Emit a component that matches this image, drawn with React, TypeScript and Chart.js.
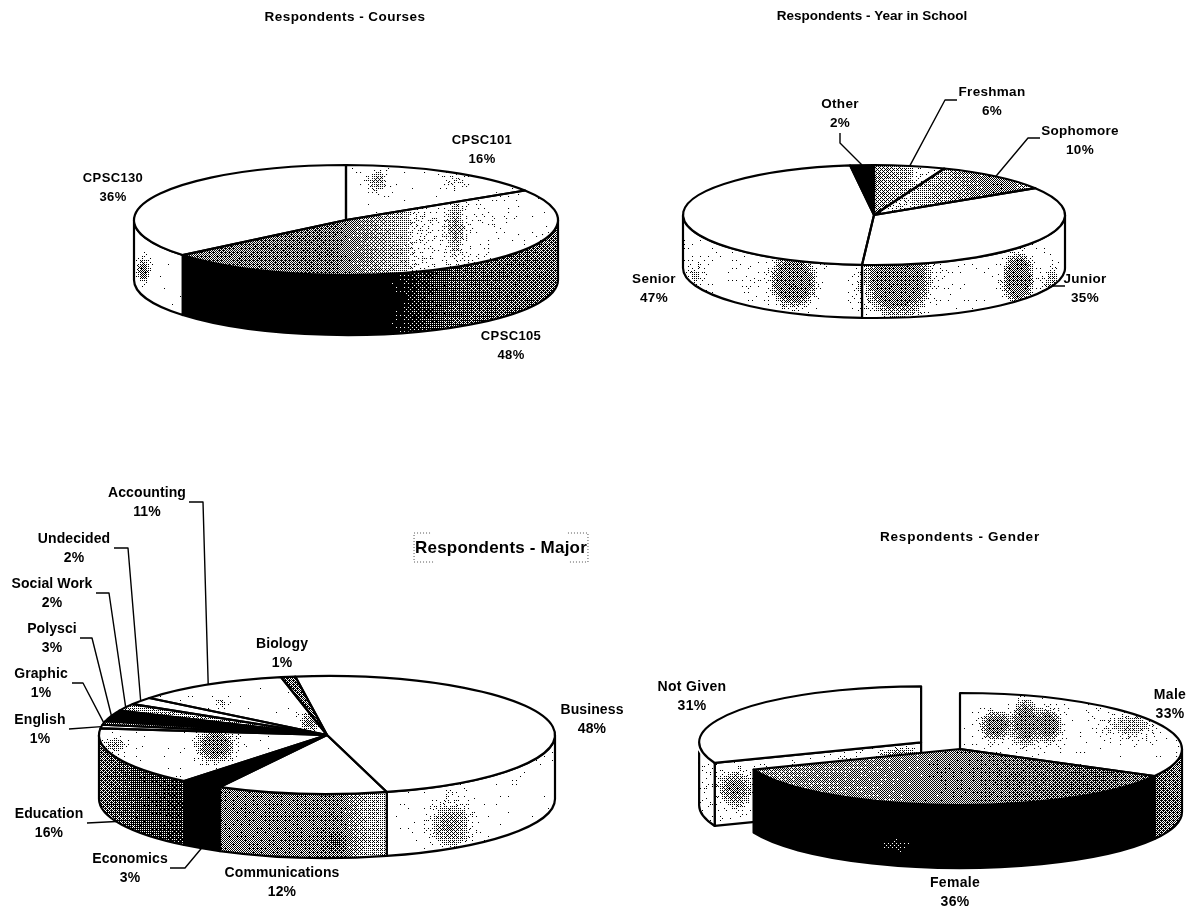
import React, { useEffect, useRef } from "react";
import { Chart, registerables } from "chart.js";

Chart.register(...registerables);

// ---- values, in percent ----
const courseLabels = ["CPSC101", "CPSC105", "CPSC130"];
const courseValues = [16, 48, 36];

const yearLabels = ["Freshman", "Sophomore", "Junior", "Senior", "Other"];
const yearValues = [6, 10, 35, 47, 2];

const majorLabels = ["Business", "Communications", "Economics", "Education", "English", "Graphic", "Polysci", "Social Work", "Undecided", "Accounting", "Biology"];
const majorValues = [48, 12, 3, 16, 1, 1, 3, 2, 2, 11, 1];

const genderLabels = ["Not Given", "Male", "Female"];
const genderValues = [31, 33, 36];

const PAGE_W = 1198;
const PAGE_H = 912;
const FONT = '"Liberation Sans", Arial, sans-serif';

type Blob = [number, number, number, number, number];
type Tone = { ramp?: [number, number][]; base?: number; blobs?: Blob[]; cap?: number };
type LabelPos = { x: number; y: number; via?: [number, number][] };
type Panel = {
  title: string;
  titleX: number;
  titleY: number;
  titleSize: number;
  titleTrack: number;
  labelSize: number;
  labelTrack: number;
  cx: number;
  cy: number;
  r: number;
  ry: number;
  depth: number;
  rotation: number;
  labels: string[];
  values: number[];
  offsets?: number[];
  tops: Tone[];
  walls: Tone[];
  cuts?: (Tone | null)[];
  layout: LabelPos[];
  frame?: boolean;
};

const solid = (d: number): Tone => ({ base: d });

// ---- halftone fill: dark pixels wherever the local tone beats an ordered threshold ----
const BAYER = [
  [0, 8, 2, 10],
  [12, 4, 14, 6],
  [3, 11, 1, 9],
  [15, 7, 13, 5],
];

function grain(x: number, y: number) {
  const s = Math.sin(x * 12.9898 + y * 78.233) * 43758.5453;
  return s - Math.floor(s);
}

function toneAt(t: Tone, x: number, y: number) {
  let d = t.base ?? 0;
  if (t.ramp) {
    const r = t.ramp;
    if (x <= r[0][0]) d = r[0][1];
    else if (x >= r[r.length - 1][0]) d = r[r.length - 1][1];
    else
      for (let i = 1; i < r.length; i++) {
        if (x <= r[i][0]) {
          const f = (x - r[i - 1][0]) / (r[i][0] - r[i - 1][0]);
          d = r[i - 1][1] + f * (r[i][1] - r[i - 1][1]);
          break;
        }
      }
  }
  for (const [bx, by, rx, ry, s] of t.blobs ?? []) {
    const u = (x - bx) / rx;
    const v = (y - by) / ry;
    d += s * Math.exp(-u * u - v * v);
  }
  return t.cap !== undefined ? Math.min(d, t.cap) : d;
}

function halftone(ctx: CanvasRenderingContext2D, p: Panel, t: Tone) {
  const c = document.createElement("canvas");
  c.width = PAGE_W;
  c.height = PAGE_H;
  const g = c.getContext("2d")!;
  g.fillStyle = "#fff";
  g.fillRect(0, 0, PAGE_W, PAGE_H);
  const x0 = Math.max(0, Math.floor(p.cx - p.r - 70));
  const x1 = Math.min(PAGE_W, Math.ceil(p.cx + p.r + 70));
  const y0 = Math.max(0, Math.floor(p.cy - p.ry - 30));
  const y1 = Math.min(PAGE_H, Math.ceil(p.cy + p.ry + p.depth + 30));
  const img = g.createImageData(x1 - x0, y1 - y0);
  let i = 0;
  for (let y = y0; y < y1; y++) {
    for (let x = x0; x < x1; x++) {
      const d = toneAt(t, x, y);
      // pale areas read as scattered specks, mid tones as an even screen
      const mix = d < 0.25 ? 0.55 : 0.92;
      const thr = mix * ((BAYER[y & 3][x & 3] + 0.5) / 16) + (1 - mix) * grain(x, y);
      const v = d > thr ? 0 : 255;
      img.data[i++] = v;
      img.data[i++] = v;
      img.data[i++] = v;
      img.data[i++] = 255;
    }
  }
  g.putImageData(img, x0, y0);
  return ctx.createPattern(c, "repeat")!;
}

// ---- the four panels ----
const panels: Panel[] = [
  {
    title: "Respondents - Courses",
    titleX: 345,
    titleY: 17,
    titleSize: 13.5,
    titleTrack: 0.45,
    labelSize: 13,
    labelTrack: 0.35,
    cx: 346,
    cy: 220,
    r: 212,
    ry: 55,
    depth: 60,
    rotation: 0,
    labels: courseLabels,
    values: courseValues,
    tops: [
      { base: 0.04, blobs: [[377, 180, 10, 12, 0.35], [453, 180, 18, 10, 0.2]] },
      { ramp: [[190, 0.55], [330, 0.58], [370, 0.42], [430, 0.16], [558, 0.05]], blobs: [[455, 228, 8, 24, 0.3]] },
      solid(0.001),
    ],
    walls: [
      solid(0.1),
      { ramp: [[180, 1.05], [385, 1.0], [420, 0.82], [455, 0.68], [558, 0.6]] },
      { base: 0.04, blobs: [[143, 270, 6, 12, 0.55]] },
    ],
    layout: [
      { x: 482, y: 140 },
      { x: 511, y: 336 },
      { x: 113, y: 178 },
    ],
  },
  {
    title: "Respondents - Year in School",
    titleX: 872,
    titleY: 16,
    titleSize: 13.5,
    titleTrack: 0,
    labelSize: 13.5,
    labelTrack: 0.3,
    cx: 874,
    cy: 215,
    r: 191,
    ry: 50,
    depth: 53,
    rotation: 0,
    labels: yearLabels,
    values: yearValues,
    tops: [
      { ramp: [[874, 0.42], [905, 0.32], [935, 0.08]] },
      { ramp: [[880, 0.15], [950, 0.38], [1000, 0.55], [1032, 0.35]] },
      solid(0.001),
      solid(0.001),
      solid(1.2),
    ],
    walls: [
      solid(0),
      solid(0),
      { base: 0.05, cap: 0.55, blobs: [[897, 278, 26, 30, 1.1], [1018, 278, 12, 20, 1.1], [1052, 285, 10, 25, 0.3]] },
      { base: 0.05, cap: 0.55, blobs: [[793, 280, 17, 20, 1.2], [695, 275, 12, 15, 0.22], [860, 285, 8, 25, 0.22], [750, 280, 12, 12, 0.12]] },
      solid(0),
    ],
    layout: [
      { x: 992, y: 92, via: [[957, 100], [945, 100]] },
      { x: 1080, y: 131, via: [[1040, 138], [1028, 138]] },
      { x: 1085, y: 279, via: [[1065, 286], [1053, 286]] },
      { x: 654, y: 279 },
      { x: 840, y: 104, via: [[840, 133], [840, 143]] },
    ],
  },
  {
    title: "Respondents - Major",
    titleX: 501,
    titleY: 548,
    titleSize: 17,
    titleTrack: 0.2,
    labelSize: 14,
    labelTrack: 0.1,
    frame: true,
    cx: 327,
    cy: 735,
    r: 228,
    ry: 59,
    depth: 64,
    rotation: -8,
    labels: majorLabels,
    values: majorValues,
    tops: [
      { base: 0.006 },
      { base: 0.012 },
      solid(1.2),
      { base: 0.05, cap: 0.55, blobs: [[215, 745, 16, 14, 0.8], [115, 744, 14, 10, 0.3]] },
      solid(0.02),
      solid(0.5),
      solid(1.2),
      solid(0.3),
      solid(0.01),
      { base: 0.05, blobs: [[222, 703, 6, 8, 0.25], [310, 722, 10, 10, 0.45]] },
      solid(0.6),
    ],
    walls: [
      { base: 0.04, blobs: [[450, 825, 22, 26, 0.4]] },
      { ramp: [[217, 0.52], [340, 0.55], [365, 0.32], [390, 0.28]], blobs: [[335, 842, 10, 10, 0.15]] },
      solid(1.2),
      { ramp: [[99, 0.6], [135, 0.72], [176, 0.8]] },
      solid(0),
      solid(0),
      solid(0),
      solid(0),
      solid(0),
      solid(0),
      solid(0),
    ],
    layout: [
      { x: 592, y: 710 },
      { x: 282, y: 873 },
      { x: 130, y: 859, via: [[170, 868], [185, 868]] },
      { x: 49, y: 814, via: [[87, 823]] },
      { x: 40, y: 720, via: [[69, 729]] },
      { x: 41, y: 674, via: [[72, 683], [83, 683]] },
      { x: 52, y: 629, via: [[80, 638], [92, 638]] },
      { x: 52, y: 584, via: [[96, 593], [109, 593]] },
      { x: 74, y: 539, via: [[114, 548], [128, 548]] },
      { x: 147, y: 493, via: [[189, 502], [203, 502]] },
      { x: 282, y: 644 },
    ],
  },
  {
    title: "Respondents - Gender",
    titleX: 960,
    titleY: 537,
    titleSize: 13.5,
    titleTrack: 0.75,
    labelSize: 14,
    labelTrack: 0.3,
    cx: 960,
    cy: 749,
    r: 222,
    ry: 56,
    depth: 63,
    rotation: -111.6,
    labels: genderLabels,
    values: genderValues,
    offsets: [188, 0, 0],
    tops: [
      solid(0.004),
      { base: 0.05, cap: 0.55, blobs: [[995, 725, 13, 12, 0.8], [1025, 722, 11, 20, 0.8], [1048, 725, 11, 14, 0.8], [1130, 725, 30, 14, 0.28]] },
      { ramp: [[755, 0.42], [960, 0.52], [1090, 0.64], [1159, 0.55]] },
    ],
    walls: [
      solid(0.14),
      { ramp: [[1159, 0.62], [1182, 0.55]] },
      { ramp: [[752, 1.2], [1130, 1.15], [1159, 0.95]], blobs: [[895, 845, 22, 10, -0.35]] },
    ],
    cuts: [{ base: 0.08, cap: 0.55, blobs: [[735, 788, 16, 16, 0.5], [900, 755, 22, 8, 0.35]] }, null, null],
    layout: [
      { x: 692, y: 687 },
      { x: 1170, y: 695 },
      { x: 955, y: 883 },
    ],
  },
];

// ---- draws the side walls, uniform outlines and labels around Chart.js's own pie slices ----
function makeSolidPiePlugin(p: Panel, wallFills: CanvasPattern[], cutFills: (CanvasPattern | null)[]) {
  const k = p.ry / p.r;
  const TAU = Math.PI * 2;

  const geometry = (arc: any) => {
    const { startAngle: s, endAngle: e, x } = arc;
    const mid = (s + e) / 2;
    const off = (arc.options.offset || 0) / 4;
    return { s, e, mid, x: x + Math.cos(mid) * off, y: p.cy + Math.sin(mid) * off * k };
  };

  const outline = (ctx: CanvasRenderingContext2D) => {
    ctx.strokeStyle = "#000";
    ctx.lineWidth = 2.2;
    ctx.lineJoin = "round";
    ctx.stroke();
  };

  return {
    id: "solidPie",
    beforeDatasetDraw(chart: any) {
      const ctx: CanvasRenderingContext2D = chart.ctx;
      const arcs = chart.getDatasetMeta(0).data;
      arcs.forEach((arc: any, i: number) => {
        const g = geometry(arc);
        const rim = (a: number, dy = 0): [number, number] => [g.x + p.r * Math.cos(a), g.y + dy + p.ry * Math.sin(a)];
        // straight cut faces show only on slices pulled away from the pie
        const cut = cutFills[i];
        if (cut && Math.cos(g.s) < 0) {
          const [rx, ry] = rim(g.s);
          ctx.beginPath();
          ctx.moveTo(g.x, g.y);
          ctx.lineTo(rx, ry);
          ctx.lineTo(rx, ry + p.depth);
          ctx.lineTo(g.x, g.y + p.depth);
          ctx.closePath();
          ctx.fillStyle = cut;
          ctx.fill();
          outline(ctx);
        }
        // curved wall: the part of the slice on the near half of the ellipse
        for (let n = -1; n <= 2; n++) {
          const lo = Math.max(g.s, n * TAU);
          const hi = Math.min(g.e, Math.PI + n * TAU);
          if (hi <= lo) continue;
          ctx.beginPath();
          ctx.ellipse(g.x, g.y, p.r, p.ry, 0, lo, hi);
          ctx.ellipse(g.x, g.y + p.depth, p.r, p.ry, 0, hi, lo, true);
          ctx.closePath();
          ctx.fillStyle = wallFills[i];
          ctx.fill();
          outline(ctx);
        }
      });
      // the top faces are drawn by the pie controller, squashed into an ellipse
      ctx.save();
      ctx.translate(0, p.cy);
      ctx.scale(1, k);
      ctx.translate(0, -p.cy);
    },
    afterDatasetDraw(chart: any) {
      const ctx: CanvasRenderingContext2D = chart.ctx;
      ctx.restore();
      chart.getDatasetMeta(0).data.forEach((arc: any) => {
        const g = geometry(arc);
        ctx.beginPath();
        ctx.moveTo(g.x, g.y);
        ctx.ellipse(g.x, g.y, p.r, p.ry, 0, g.s, g.e);
        ctx.closePath();
        outline(ctx);
      });
    },
    afterDraw(chart: any) {
      const ctx: CanvasRenderingContext2D = chart.ctx;
      ctx.save();
      ctx.fillStyle = "#000";
      ctx.textAlign = "center";
      ctx.textBaseline = "middle";
      ctx.font = `bold ${p.titleSize}px ${FONT}`;
      ctx.letterSpacing = `${p.titleTrack}px`;
      ctx.fillText(p.title, p.titleX, p.titleY);

      if (p.frame) {
        const w = ctx.measureText(p.title).width;
        const l = p.titleX - w / 2 - 1;
        const r = p.titleX + w / 2 + 1;
        const t = p.titleY - 15;
        const b = p.titleY + 14;
        ctx.save();
        ctx.strokeStyle = "#555";
        ctx.lineWidth = 1;
        ctx.setLineDash([1, 2]);
        ctx.beginPath();
        ctx.moveTo(l + 16, t);
        ctx.lineTo(l, t);
        ctx.lineTo(l, b);
        ctx.lineTo(l + 20, b);
        ctx.moveTo(r - 20, t);
        ctx.lineTo(r, t);
        ctx.lineTo(r, b);
        ctx.lineTo(r - 20, b);
        ctx.stroke();
        ctx.restore();
      }

      const arcs = chart.getDatasetMeta(0).data;
      ctx.font = `bold ${p.labelSize}px ${FONT}`;
      ctx.letterSpacing = `${p.labelTrack}px`;
      p.labels.forEach((name, i) => {
        const pos = p.layout[i];
        ctx.fillText(name, pos.x, pos.y);
        ctx.fillText(`${p.values[i]}%`, pos.x, pos.y + 19);
        if (pos.via) {
          const g = geometry(arcs[i]);
          const near = Math.sin(g.mid) > 0;
          ctx.beginPath();
          pos.via.forEach(([vx, vy], j) => (j ? ctx.lineTo(vx, vy) : ctx.moveTo(vx, vy)));
          ctx.lineTo(g.x + p.r * Math.cos(g.mid), g.y + (near ? p.depth : 0) + p.ry * Math.sin(g.mid));
          ctx.strokeStyle = "#000";
          ctx.lineWidth = 1.4;
          ctx.stroke();
        }
      });
      ctx.restore();
    },
  };
}

function SolidPie({ panel }: { panel: Panel }) {
  const ref = useRef<HTMLCanvasElement>(null);
  useEffect(() => {
    const canvas = ref.current!;
    const ctx = canvas.getContext("2d")!;
    const k = panel.ry / panel.r;
    const unsquash = new DOMMatrix().translate(0, panel.cy).scale(1, 1 / k).translate(0, -panel.cy);
    const topFills = panel.tops.map((t) => {
      const pat = halftone(ctx, panel, t);
      pat.setTransform(unsquash);
      return pat;
    });
    const wallFills = panel.walls.map((t) => halftone(ctx, panel, t));
    const cutFills = (panel.cuts ?? panel.tops.map(() => null)).map((t) => (t ? halftone(ctx, panel, t) : null));

    // padding centres the chart area on the pie; the radius itself is absolute
    const padding = {
      left: Math.max(0, 2 * panel.cx - PAGE_W),
      right: Math.max(0, PAGE_W - 2 * panel.cx),
      top: Math.max(0, 2 * panel.cy - PAGE_H),
      bottom: Math.max(0, PAGE_H - 2 * panel.cy),
    };

    const chart = new Chart(canvas, {
      type: "pie",
      data: {
        labels: panel.labels,
        datasets: [
          {
            data: panel.values,
            backgroundColor: topFills,
            borderWidth: 0,
            offset: panel.offsets ?? 0,
            clip: false,
          } as any,
        ],
      },
      options: {
        animation: false,
        responsive: false,
        maintainAspectRatio: false,
        events: [],
        rotation: panel.rotation,
        radius: panel.r,
        layout: { padding },
        plugins: { legend: { display: false }, tooltip: { enabled: false }, title: { display: false } },
      } as any,
      plugins: [makeSolidPiePlugin(panel, wallFills, cutFills)],
    });
    return () => chart.destroy();
  }, [panel]);
  return <canvas ref={ref} width={PAGE_W} height={PAGE_H} style={{ position: "absolute", left: 0, top: 0 }} />;
}

export default function App() {
  return (
    <div style={{ position: "absolute", left: 0, top: 0, width: PAGE_W, height: PAGE_H, background: "#fff", overflow: "hidden" }}>
      {panels.map((p) => (
        <SolidPie key={p.title} panel={p} />
      ))}
    </div>
  );
}
